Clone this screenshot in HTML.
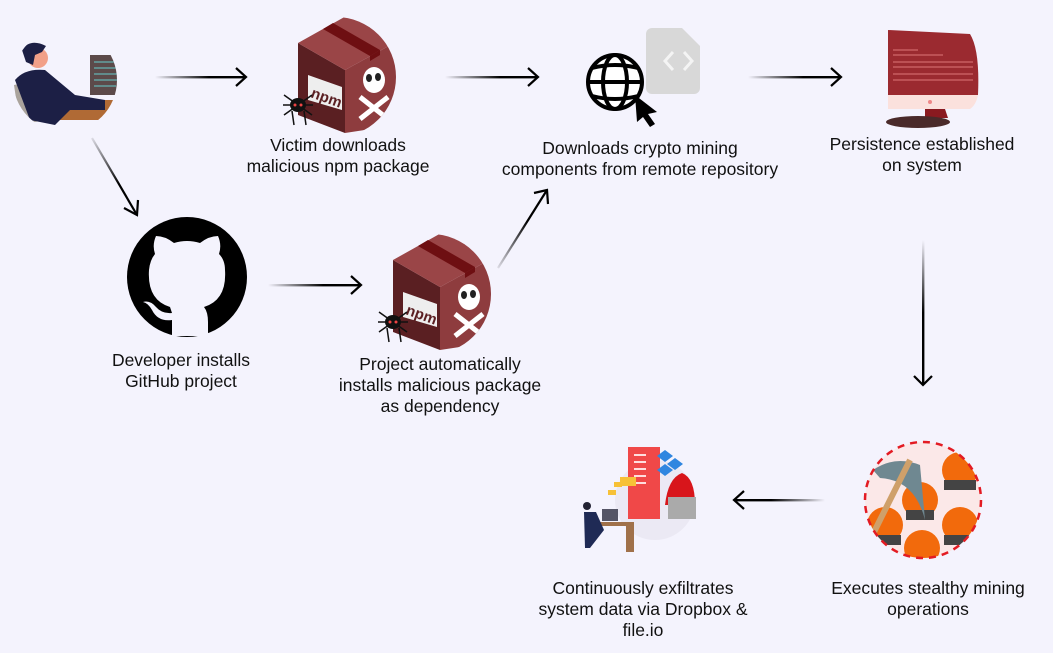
<!DOCTYPE html>
<html><head><meta charset="utf-8"><style>
html,body{margin:0;padding:0;background:#f4f3fd;}
body{width:1053px;height:653px;position:relative;overflow:hidden;font-family:"Liberation Sans",Arial,sans-serif;}
.t{position:absolute;font-size:17.5px;line-height:21px;color:#111;text-align:center;white-space:nowrap;transform:translateX(-50%);}
svg{position:absolute;left:0;top:0;}
</style></head><body>
<svg width="1053" height="653" viewBox="0 0 1053 653">
<defs>
<linearGradient id="gr" x1="0" x2="1" y1="0" y2="0"><stop offset="0" stop-color="#000" stop-opacity="0"/><stop offset="0.6" stop-color="#000"/></linearGradient>
<linearGradient id="gl" x1="1" x2="0" y1="0" y2="0"><stop offset="0" stop-color="#000" stop-opacity="0"/><stop offset="0.6" stop-color="#000"/></linearGradient>
<linearGradient id="gd" x1="0" x2="0" y1="0" y2="1"><stop offset="0" stop-color="#000" stop-opacity="0"/><stop offset="0.5" stop-color="#000"/></linearGradient>
<linearGradient id="gdiag1" gradientUnits="userSpaceOnUse" x1="92" y1="138" x2="137" y2="215"><stop offset="0" stop-color="#000" stop-opacity="0.1"/><stop offset="0.6" stop-color="#000"/></linearGradient>
<linearGradient id="gdiag2" gradientUnits="userSpaceOnUse" x1="498" y1="268" x2="547" y2="190"><stop offset="0" stop-color="#000" stop-opacity="0.1"/><stop offset="0.6" stop-color="#000"/></linearGradient>
<clipPath id="bc"><circle cx="38" cy="62" r="60"/></clipPath>
<clipPath id="pc"><circle cx="65" cy="80" r="52"/></clipPath>
<clipPath id="mc"><circle cx="923" cy="500" r="58"/></clipPath>
<g id="box">
 <g clip-path="url(#bc)">
  <polygon points="0,28 47,55 47,118 0,100" fill="#5a1f22"/>
  <polygon points="47,55 100,26 100,110 47,118" fill="#8e3c3e"/>
  <polygon points="0,28 50,0 100,26 47,55" fill="#9a4547"/>
  <polygon points="25,14 35,8 35,8 82,35 72,41" fill="#6e0f12"/>
  <polygon points="72,41 82,35 82,40 72,46" fill="#6e0f12"/>
  <polygon points="10,60 44,72 44,95 10,85" fill="#eee"/>
  <text x="12" y="82" font-size="15" font-weight="bold" fill="#5a1f22" transform="rotate(20 12 82)">npm</text>
  <ellipse cx="76" cy="65" rx="11" ry="13" fill="#fff"/>
  <ellipse cx="71" cy="63" rx="3" ry="4" fill="#222"/><ellipse cx="80" cy="62" rx="3" ry="4" fill="#222"/>
  <path d="M62 82 L90 104 M90 82 L62 104" stroke="#fff" stroke-width="5"/>
 </g>
 <ellipse cx="0" cy="90" rx="8" ry="7" fill="#111"/>
 <path d="M-14 80 L14 100 M14 80 L-14 100 M-15 90 L15 90 M-6 96 L-4 110 M6 96 L8 110" stroke="#111" stroke-width="1.5"/>
 <circle cx="-3" cy="90" r="1.5" fill="#e44"/><circle cx="3" cy="90" r="1.5" fill="#e44"/>
</g>
</defs>

<!-- arrows -->
<rect x="155" y="76" width="90" height="2.4" fill="url(#gr)"/>
<rect x="445" y="76" width="92" height="2.4" fill="url(#gr)"/>
<rect x="748" y="76" width="92" height="2.4" fill="url(#gr)"/>
<rect x="268" y="284" width="92" height="2.4" fill="url(#gr)"/>
<rect x="735" y="499" width="90" height="2.4" fill="url(#gl)"/>
<rect x="922" y="240" width="2.4" height="145" fill="url(#gd)"/>
<g fill="none" stroke-width="2.2">
<path d="M236 68 L246 77 L236 86" stroke="#000"/>
<path d="M528 68 L538 77 L528 86" stroke="#000"/>
<path d="M831 68 L841 77 L831 86" stroke="#000"/>
<path d="M351 276 L361 285 L351 294" stroke="#000"/>
<line x1="92" y1="138" x2="137" y2="215" stroke="url(#gdiag1)"/><path d="M124 208 L137 215 L138 200" stroke="#000"/>
<line x1="498" y1="268" x2="547" y2="190" stroke="url(#gdiag2)"/><path d="M534 193 L547 190 L548 204" stroke="#000"/>
<path d="M914 376 L923 385 L932 376" stroke="#000"/>
<path d="M744 491 L734 500 L744 509" stroke="#000"/>
</g>

<!-- person -->
<g clip-path="url(#pc)">
 <circle cx="65" cy="80" r="52" fill="#f4f3fd"/>
 <rect x="90" y="55" width="38" height="40" fill="#5c4a4a"/>
 <path d="M94 62h20M94 68h28M94 74h24M94 80h30M94 86h22" stroke="#6cc" stroke-width="1"/>
 <rect x="50" y="100" width="80" height="20" fill="#b06a35"/>
 <path d="M14 85 Q30 80 45 120 L20 125 Z" fill="#aaa39c"/>
 <path d="M15 80 Q25 68 45 70 L75 95 L105 100 L105 110 L70 110 L55 125 L30 120 Z" fill="#1c1f45"/>
 <circle cx="38" cy="58" r="10" fill="#f2a088"/>
 <path d="M22 50 Q30 38 46 46 L42 52 L35 55 L33 65 L26 62 Z" fill="#1c1f45"/>
</g>

<use href="#box" x="298" y="15"/>
<use href="#box" x="393" y="232"/>

<!-- globe + doc -->
<path d="M652 28 h30 l18 18 v42 a6 6 0 0 1 -6 6 h-42 a6 6 0 0 1 -6 -6 v-54 a6 6 0 0 1 6 -6z" fill="#d8d8d8"/>
<path d="M673 52 l-8 9 l8 9 M684 52 l8 9 l-8 9" stroke="#f4f4f4" stroke-width="3" fill="none"/>
<g fill="none" stroke="#000" stroke-width="4">
<circle cx="615" cy="82" r="27" fill="#fff"/>
<ellipse cx="615" cy="82" rx="12" ry="27"/>
<line x1="588" y1="82" x2="642" y2="82"/>
<path d="M592 68 Q615 62 638 68 M592 96 Q615 102 638 96"/>
</g>
<path d="M635 95 L657 112 L648 114 L655 124 L650 127 L643 117 L637 122 Z" fill="#000"/>

<!-- monitor -->
<path d="M888 30 L970 34 Q980 50 978 95 L888 95 Z" fill="#9b2a30"/>
<path d="M888 95 L978 95 Q976 105 970 109 L888 109 Z" fill="#fbe1dd"/>
<circle cx="930" cy="102" r="2" fill="#e88"/>
<path d="M893 50h25M893 55h50M893 62h80M893 67h80M893 74h80M893 80h80" stroke="#d77" stroke-width="1"/>
<path d="M925 109 L945 109 L948 118 L925 118 Z" fill="#8a1a20"/>
<ellipse cx="918" cy="122" rx="32" ry="6" fill="#4a2a2a"/>

<!-- github -->
<circle cx="187" cy="277" r="60" fill="#000"/>
<path d="M172 336 L172 320 Q158 322 152 310 Q148 303 143 302 Q150 300 156 307 Q162 314 172 313 L170 307 Q147 300 149 270 Q150 260 155 254 Q152 245 156 236 Q165 236 174 243 Q187 239 200 243 Q209 236 218 236 Q222 245 219 254 Q225 260 225 270 Q227 300 204 307 Q208 312 208 322 L208 336 Z" fill="#f4f3fd"/>

<!-- exfil -->
<circle cx="655" cy="500" r="40" fill="#ebe9f4"/>
<rect x="628" y="447" width="32" height="72" fill="#f04848"/>
<path d="M634 455h12M634 462h12M634 469h12M634 476h12M634 483h12" stroke="#fdd" stroke-width="2"/>
<path d="M657 456 l8 -6 l8 6 l-8 6 z M667 464 l8 -6 l8 6 l-8 6 z M657 470 l8 -6 l8 6 l-8 6z" fill="#2f86e0"/>
<path d="M665 505 Q668 478 682 473 Q695 478 695 505 Z" fill="#d8151b"/>
<rect x="668" y="497" width="28" height="22" fill="#aaa"/>
<rect x="620" y="477" width="16" height="9" fill="#f7c137"/>
<rect x="608" y="490" width="8" height="5" fill="#f7c137"/><rect x="614" y="482" width="8" height="5" fill="#f7c137"/>
<rect x="602" y="509" width="16" height="12" fill="#556"/>
<path d="M596 522 h38 v30 h-8 v-26 h-26 z" fill="#a0714a"/>
<circle cx="587" cy="506" r="4" fill="#223"/>
<path d="M584 512 L596 512 L604 530 L590 548 L585 548 Z" fill="#1f2a55"/>

<!-- mining -->
<g clip-path="url(#mc)">
<circle cx="923" cy="500" r="58" fill="#fbe8e8"/>
<g fill="#f26a0c">
<circle cx="960" cy="470" r="18"/><circle cx="920" cy="500" r="18"/><circle cx="885" cy="525" r="18"/><circle cx="960" cy="525" r="18"/><circle cx="922" cy="548" r="18"/>
</g>
<g fill="#444">
<path d="M944 480 h32 v10 h-32 z M906 510 h28 v10 h-28z M869 535 h32 v10h-32z M944 535 h32 v10h-32z M906 558 h32 v10h-32z"/>
</g>
<path d="M873 470 Q895 455 920 465 L925 520 Q915 480 880 478 Z" fill="#6f8891"/>
<path d="M910 460 L870 540" stroke="#cfa06a" stroke-width="6"/>
</g>
<circle cx="923" cy="500" r="58" fill="none" stroke="#e31b23" stroke-width="2.5" stroke-dasharray="7 6"/>
</svg>

<div class="t" style="left:338px;top:135px">Victim downloads<br>malicious npm package</div>
<div class="t" style="left:640px;top:138px">Downloads crypto mining<br>components from remote repository</div>
<div class="t" style="left:922px;top:134px">Persistence established<br>on system</div>
<div class="t" style="left:181px;top:350px">Developer installs<br>GitHub project</div>
<div class="t" style="left:440px;top:354px">Project automatically<br>installs malicious package<br>as dependency</div>
<div class="t" style="left:928px;top:578px">Executes stealthy mining<br>operations</div>
<div class="t" style="left:643px;top:578px">Continuously exfiltrates<br>system data via Dropbox &amp;<br>file.io</div>
</body></html>
